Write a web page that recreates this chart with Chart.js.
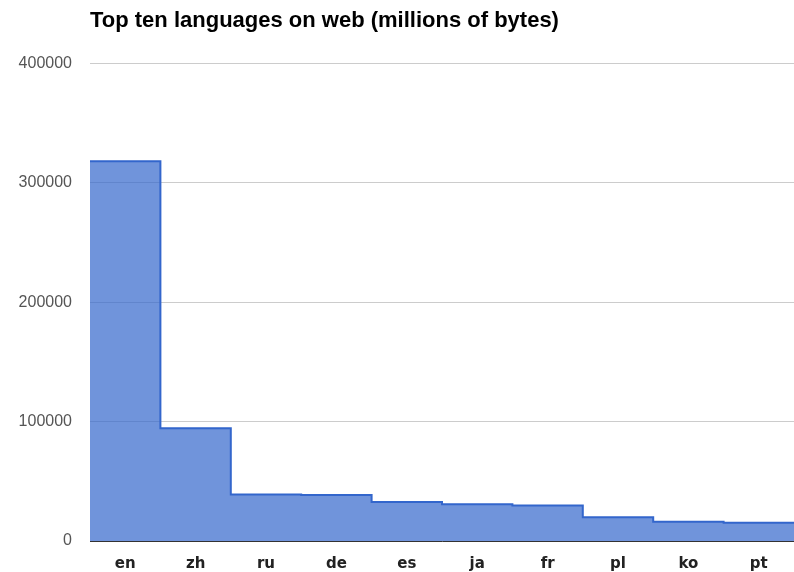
<!DOCTYPE html>
<html>
<head>
<meta charset="utf-8">
<script src="https://cdn.jsdelivr.net/npm/chart.js@4.4.0/dist/chart.umd.min.js"></script>
<style>
  html, body { margin: 0; padding: 0; background: #fff; }
  #wrap { width: 794px; height: 572px; position: relative; }
</style>
</head>
<body>
<div id="wrap"><canvas id="langChart"></canvas></div>
<script>
// languages and size in millions of bytes
const languages = ["en", "zh", "ru", "de", "es", "ja", "fr", "pl", "ko", "pt"];
const bytes = [318000, 94500, 39000, 38500, 32600, 30800, 29800, 19800, 16100, 15300];
const yTicks = [0, 100000, 200000, 300000, 400000];

// one step per language: point i starts the block, the last point closes it
const stepPoints = languages.map((lang, i) => ({ x: i, y: bytes[i] }));
stepPoints.push({ x: languages.length, y: bytes[bytes.length - 1] });

const ctx = document.getElementById("langChart").getContext("2d");
new Chart(ctx, {
  type: "line",
  data: {
    datasets: [
      {
        data: stepPoints,
        stepped: "before",
        borderColor: "#3366cc",
        borderWidth: 2,
        backgroundColor: "rgba(51, 102, 204, 0.7)",
        fill: "origin",
        pointRadius: 0,
      },
    ],
  },
  options: {
    responsive: true,
    maintainAspectRatio: false,
    animation: false,
    layout: { padding: 0 },
    scales: {
      x: {
        type: "linear",
        min: 0,
        max: languages.length,
        afterBuildTicks: (scale) => {
          scale.ticks = languages.map((lang, i) => ({ value: i + 0.5 }));
        },
        afterFit: (scale) => {
          scale.height = 31;
        },
        grid: { display: false },
        border: { display: true, color: "#333", width: 1 },
        ticks: {
          autoSkip: false,
          maxRotation: 0,
          color: "#222",
          padding: 6,
          font: { family: "DejaVu Sans", size: 15, weight: "bold" },
          callback: (value) => languages[Math.floor(value)],
        },
      },
      y: {
        min: 0,
        max: 400000,
        afterBuildTicks: (scale) => {
          scale.ticks = yTicks.map((v) => ({ value: v }));
        },
        afterFit: (scale) => {
          scale.width = 90;
        },
        grid: { color: "#cccccc", drawTicks: false },
        border: { display: false },
        ticks: {
          color: "#555",
          padding: 18,
          font: { family: "Liberation Sans", size: 16 },
          callback: (value) => String(value),
        },
      },
    },
    plugins: {
      legend: { display: false },
      tooltip: { enabled: false },
      title: {
        display: true,
        text: "Top ten languages on web (millions of bytes)",
        align: "start",
        fullSize: false,
        color: "#000",
        font: { family: "Liberation Sans", size: 22, weight: "bold" },
        padding: { top: 8, bottom: 29 },
      },
    },
  },
});
</script>
</body>
</html>
